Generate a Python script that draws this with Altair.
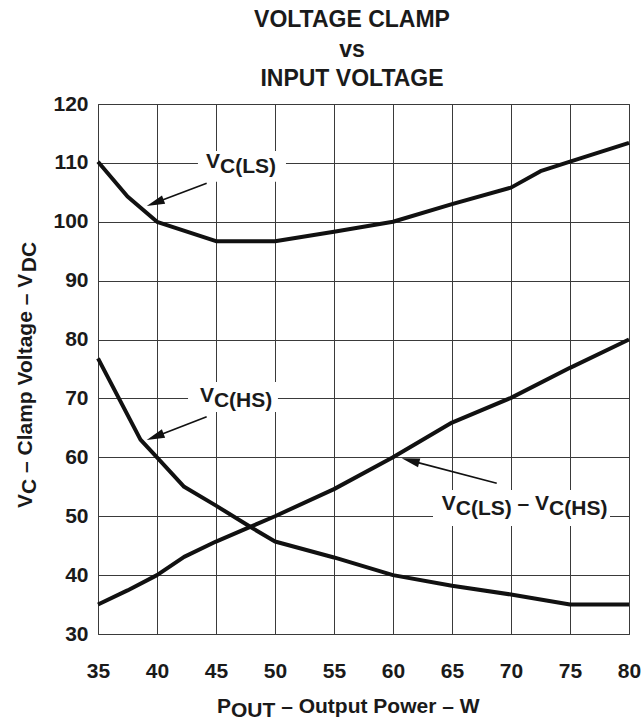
import math
import altair as alt
import pandas as pd

# ---------------- data ----------------
x_ls = [35, 37.5, 40, 45, 50, 55, 60, 65, 70, 72.5, 75, 80]
y_ls = [110.2, 104.3, 100, 96.7, 96.7, 98.3, 100, 103, 105.8, 108.6, 110.2, 113.4]

x_hs = [35, 38.6, 40, 42.3, 45, 47.9, 50, 55, 60, 65, 70, 75, 80]
y_hs = [76.8, 63.0, 60, 55.0, 51.8, 48.2, 45.7, 43.0, 40, 38.2, 36.7, 35.0, 35.0]

x_diff = [35, 37.5, 40, 42.3, 45, 47.9, 50, 55, 60, 65, 70, 75, 80]
y_diff = [35.0, 37.4, 40, 43.1, 45.7, 48.2, 50, 54.6, 60, 65.9, 70.1, 75.2, 80]

x_ticks = [35, 40, 45, 50, 55, 60, 65, 70, 75, 80]
y_ticks = [30, 40, 50, 60, 70, 80, 90, 100, 110, 120]

title_lines = ["VOLTAGE CLAMP", "vs", "INPUT VOLTAGE"]

# annotations (data coordinates). Segment: (text, subscript?, extra space before)
label_ls = [("V", False, 0), ("C(LS)", True, 0)]
label_hs = [("V", False, 0), ("C(HS)", True, 0)]
label_diff = [("V", False, 0), ("C(LS)", True, 0), ("\u2013", False, 1), ("V", False, 1), ("C(HS)", True, 0)]
label_anchor = [(44.15, 109.1), (43.64, 69.45), (64.13, 51.06)]
label_boxes = [(43.47, 50.93, 106.8, 112.0), (42.63, 50.25, 67.7, 72.79), (63.39, 78.39, 48.34, 54.45)]
arrows = [((44.21, 106.53), (39.13, 102.68)),
          ((44.21, 66.9), (39.13, 62.94)),
          ((68.79, 55.59), (60.74, 59.83))]

x_title = [("P", False, 0), ("OUT", True, 0), ("\u2013 Output Power \u2013 W", False, 1)]
y_title = [("V", False, 0), ("C", True, 0), ("\u2013 Clamp Voltage \u2013 V", False, 1), ("DC", True, 0)]

# ---------------- style ----------------
FONT = "Liberation Sans"
INK = "#1a1a1a"
W_PLOT, H_PLOT = 531, 530
X_DOM, Y_DOM = [35, 80], [30, 120]
PX_X = W_PLOT / (X_DOM[1] - X_DOM[0])
PX_Y = H_PLOT / (Y_DOM[1] - Y_DOM[0])

GLYPH = {' ': 278, '(': 333, ')': 333, '\u2013': 556, 'A': 722, 'C': 722, 'D': 722, 'H': 722,
         'L': 611, 'O': 778, 'P': 667, 'S': 667, 'T': 611, 'U': 722, 'V': 667, 'W': 944,
         'a': 556, 'e': 556, 'g': 611, 'l': 278, 'm': 889, 'o': 611, 'p': 611, 'r': 389,
         't': 333, 'u': 611, 'w': 778}


def tw(s, size):
    return sum(GLYPH.get(c, 600) for c in s) * size / 1000.0


xs = alt.Scale(domain=X_DOM, nice=False, zero=False)
ys = alt.Scale(domain=Y_DOM, nice=False, zero=False)
XN = lambda f: alt.X(f, scale=xs)
YN = lambda f: alt.Y(f, scale=ys)

df = pd.concat([
    pd.DataFrame({"x": x_ls, "y": y_ls, "s": "ls"}),
    pd.DataFrame({"x": x_hs, "y": y_hs, "s": "hs"}),
    pd.DataFrame({"x": x_diff, "y": y_diff, "s": "diff"}),
])

curves = alt.Chart(df).mark_line(color="#111111", strokeWidth=4, strokeJoin="round").encode(
    x=alt.X("x:Q", scale=xs, axis=alt.Axis(values=x_ticks, title=None, labelPadding=26,
                                          labelFlush=False, labelOverlap=False)),
    y=alt.Y("y:Q", scale=ys, axis=alt.Axis(values=y_ticks, title=None, labelPadding=10,
                                          labelFlush=False, labelOverlap=False)),
    detail="s:N",
)

boxes_df = pd.DataFrame([{"x": a, "x2": b, "y": c, "y2": d} for a, b, c, d in label_boxes])
boxes = alt.Chart(boxes_df).mark_rect(color="white").encode(
    x=XN("x:Q"), x2="x2:Q", y=YN("y:Q"), y2="y2:Q")

# arrows
rule_rows, head_rows = [], []
HEAD = 18.0
for (sx, sy), (tx, ty) in arrows:
    dxp = (tx - sx) * PX_X
    dyp = -(ty - sy) * PX_Y
    n = math.hypot(dxp, dyp)
    ux, uy = dxp / n, dyp / n
    cx = tx - (HEAD / 2) * ux / PX_X
    cy = ty + (HEAD / 2) * uy / PX_Y
    ang = math.degrees(math.atan2(dyp, dxp)) % 360
    rule_rows.append({"x": sx, "y": sy, "x2": cx, "y2": cy})
    head_rows.append({"x": cx, "y": cy, "a": ang})

arrow_rules = alt.Chart(pd.DataFrame(rule_rows)).mark_rule(color="#111111", strokeWidth=1.6).encode(
    x=XN("x:Q"), y=YN("y:Q"), x2="x2:Q", y2="y2:Q")
heads = alt.Chart(pd.DataFrame(head_rows)).mark_point(
    shape="M1,0 L-1,-0.5 L-1,0.5 Z", filled=True, color="#111111", opacity=1, size=HEAD * HEAD,
    strokeWidth=0).encode(
    x=XN("x:Q"), y=YN("y:Q"), angle=alt.Angle("a:Q", scale=None))


def rich(segments, size, anchor_chart, x_enc, y_enc, angle=0, sub=5.0):
    out = []
    off = 0.0
    for text, is_sub, gap in segments:
        off += gap * tw(" ", size)
        kw = dict(text=text, align="left", baseline="alphabetic", dx=off,
                  fontSize=size, fontWeight="bold", font=FONT, color=INK)
        if is_sub:
            kw["dy"] = sub
        if angle:
            kw["angle"] = angle
        out.append(anchor_chart.mark_text(**kw).encode(x=x_enc, y=y_enc))
        off += tw(text, size)
    return out


text_layers = []
for segs, (ax, ay) in zip([label_ls, label_hs, label_diff], label_anchor):
    anc = alt.Chart(pd.DataFrame({"x": [ax], "y": [ay]}))
    text_layers += rich(segs, 21, anc, XN("x:Q"), YN("y:Q"))

one = alt.Chart(pd.DataFrame({"k": [0]}))
text_layers += rich(x_title, 21, one, alt.value(119), alt.value(608.5), sub=4)
text_layers += rich(y_title, 21, one, alt.value(-66), alt.value(404), angle=270, sub=4)

chart = alt.layer(curves, boxes, arrow_rules, heads, *text_layers).properties(
    width=W_PLOT, height=H_PLOT,
    title=alt.TitleParams(text=title_lines, fontSize=23, font=FONT, fontWeight="bold",
                          color=INK, anchor="middle", dx=-11.5, lineHeight=29.5, offset=2),
    autosize=alt.AutoSizeParams(type="none"),
    padding={"left": 98, "top": 104, "right": 12, "bottom": 85},
    background="white",
).configure_view(stroke="#3a3a3a", strokeWidth=1).configure_axis(
    domain=False, ticks=False, labelFontSize=21, labelFont=FONT, labelFontWeight="bold",
    labelColor=INK, grid=True, gridColor="#3a3a3a", gridWidth=1, gridOpacity=1, title=None,
    labelFlush=False,
)

chart.save("out.html", embed_options={"renderer": "svg", "actions": False})
